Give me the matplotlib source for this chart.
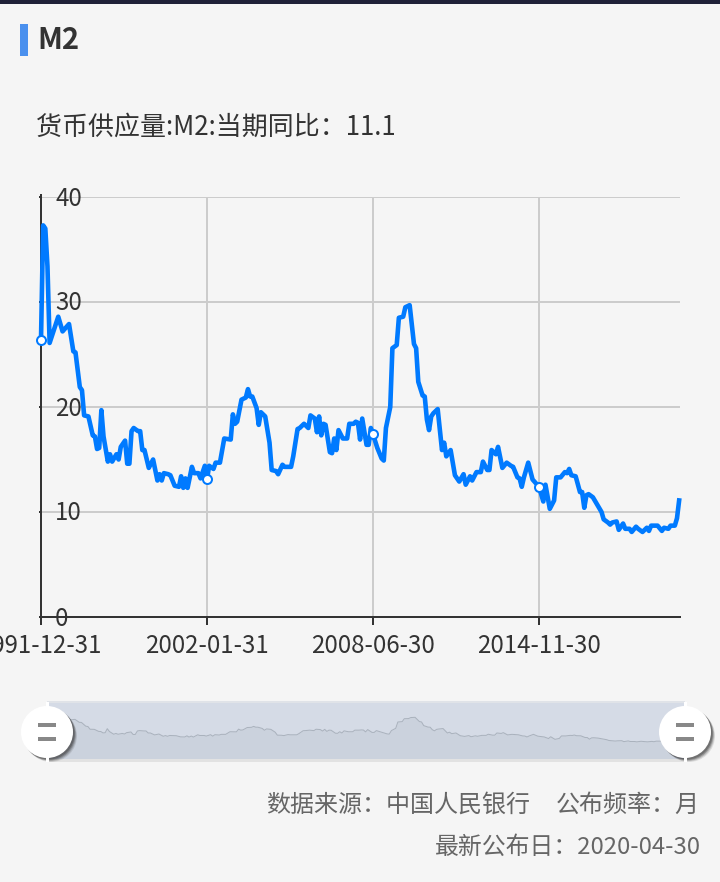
import matplotlib
matplotlib.use("Agg")
import matplotlib.pyplot as plt
from matplotlib.patches import Circle, Rectangle
from matplotlib.transforms import ScaledTranslation

plt.rcParams['font.family'] = ['Noto Sans CJK SC', 'DejaVu Sans']

W, H = 720, 882
BG = '#f5f5f5'
BLUE = '#007aff'

title = 'M2'
subtitle = '货币供应量:M2:当期同比：11.1'
source = '数据来源：中国人民银行'
frequency = '公布频率：月'
updated = '最新公布日：2020-04-30'

# position of each reading on the category axis (one step = one published month)
obs_index = [0, 1, 2, 3, 4, 8, 10, 13, 15, 16, 18, 19, 20, 22, 24, 25, 26, 27, 28, 29, 31, 32, 33, 35, 36, 37, 39, 40, 41, 42,
             43, 45, 46, 47, 48, 50, 52, 54, 55, 56, 57, 59, 60, 62, 64, 65, 66, 67, 68, 70, 71, 73, 74, 76, 77, 78, 80, 81, 83, 85,
             88, 89, 90, 91, 93, 95, 96, 97, 98, 100, 101, 102, 104, 106, 107, 109, 110, 112, 113, 116, 117, 119, 120, 122, 124, 125, 127, 128, 129, 130,
             131, 132, 134, 135, 136, 137, 138, 140, 142, 143, 145, 146, 147, 148, 149, 151, 152, 153, 154, 156, 158, 159, 160, 162, 163, 165, 166, 168, 169, 171,
             173, 174, 175, 177, 178, 179, 180, 181, 182, 184, 186, 187, 188, 190, 192, 194, 196, 197, 199, 200, 202, 204, 205, 207, 208, 209, 211, 212, 214, 216,
             218, 219, 221, 222, 223, 224, 226, 228, 231, 233, 234, 236, 238, 239, 241, 243, 244, 245, 246, 248, 250, 251, 252, 253, 254, 256, 258, 260, 261, 263,
             264, 265, 267, 268, 270, 271, 273, 274, 276, 277, 279, 280, 281, 282, 283, 286, 288, 289, 291, 292, 294, 295, 296]
m2_yoy = [26.4, 37.3, 37.0, 33.4, 26.1, 28.6, 27.2, 27.9, 25.3, 25.2, 21.9, 21.6, 19.2, 19.1, 17.3, 17.2, 16.0, 16.1, 19.7, 17.2, 14.8, 15.5, 14.8, 15.5, 15.0, 16.2, 16.8, 14.6, 14.6, 17.7,
          18.0, 17.7, 17.7, 15.9, 15.9, 14.2, 15.0, 13.0, 13.6, 13.0, 13.7, 13.6, 13.5, 12.5, 12.4, 13.4, 12.3, 13.2, 12.3, 14.3, 13.7, 13.7, 13.2, 14.4, 13.1, 14.4, 14.1, 14.7, 14.7, 17.0,
          16.9, 19.3, 18.4, 18.6, 20.7, 20.9, 21.7, 21.0, 21.0, 19.9, 18.3, 19.5, 19.1, 16.6, 14.0, 13.9, 13.6, 14.5, 14.3, 14.3, 15.3, 17.9, 18.0, 18.4, 18.0, 19.2, 18.9, 17.6, 19.1, 17.3,
          18.4, 18.3, 15.7, 15.6, 17.0, 15.9, 17.8, 17.0, 17.0, 18.4, 18.4, 18.6, 18.5, 16.9, 18.9, 16.4, 16.4, 18.0, 17.4, 16.1, 15.1, 14.9, 18.0, 20.0, 25.6, 25.9, 28.5, 28.6, 29.5, 29.7,
          26.0, 25.6, 22.4, 21.1, 21.0, 18.8, 17.8, 19.1, 19.4, 19.8, 15.9, 16.6, 15.3, 15.9, 13.5, 12.9, 13.6, 12.6, 13.4, 13.0, 13.8, 13.8, 14.8, 14.0, 14.0, 15.9, 15.5, 16.2, 14.2, 14.7,
          14.4, 14.3, 13.3, 13.2, 12.4, 13.3, 14.7, 13.1, 12.4, 11.0, 12.6, 10.3, 11.1, 13.3, 13.3, 13.8, 13.7, 14.1, 13.5, 13.4, 11.9, 11.9, 10.4, 11.6, 11.7, 11.4, 10.7, 10.0, 9.3, 9.0,
          8.8, 9.0, 9.1, 8.3, 8.9, 8.4, 8.4, 8.1, 8.6, 8.4, 8.1, 8.3, 8.5, 8.2, 8.7, 8.7, 8.2, 8.5, 8.4, 8.7, 8.7, 9.4, 11.1]

tick_index = [0, 77, 154, 231]
tick_dates = ['1991-12-31', '2002-01-31', '2008-06-30', '2014-11-30']
tick_values = [0, 10, 20, 30, 40]
marker_values = [26.4, 13.1, 17.4, 12.4]
last_index = 296.4


def rect(x0, y0, x1, y1):
    return [x0 / W, 1 - y1 / H, (x1 - x0) / W, (y1 - y0) / H]


px = 72 / 100  # one image pixel in points
fig = plt.figure(figsize=(W / 100, H / 100), dpi=100, facecolor=BG)

# main chart
ax = fig.add_axes(rect(41, 197, 680, 617), facecolor='none')
ax.set_xlim(0, last_index)
ax.set_ylim(0, 40)
ax.grid(True, color='#cccccc', lw=2 * px)
ax.set_axisbelow(True)
ax.plot(obs_index, m2_yoy, color=BLUE, lw=4.6 * px, solid_joinstyle='round', clip_on=False, zorder=3)
ax.plot(tick_index, marker_values, ls='none', marker='o', ms=9 * px, mfc='white', mec=BLUE, mew=2 * px,
        clip_on=False, zorder=4)
ax.set_xticks(tick_index, tick_dates)
ax.set_yticks(tick_values)
for s in ('top', 'right'):
    ax.spines[s].set_visible(False)
for s in ('left', 'bottom'):
    ax.spines[s].set_color('#333333')
    ax.spines[s].set_linewidth(2 * px)
ax.spines['left'].set_bounds(0, 40.2)
ax.tick_params(axis='x', length=8 * px, width=2 * px, color='#333333', labelsize=17.3, labelcolor='#333333', pad=8 * px)
ax.tick_params(axis='y', length=2 * px, width=2 * px, color='#333333', labelsize=17.3, labelcolor='#333333', pad=-16 * px)
label_shift = ScaledTranslation(0, -1.5 / 100, fig.dpi_scale_trans)
for lab in ax.get_yticklabels():
    lab.set_ha('left')
    lab.set_va('center')
    lab.set_transform(lab.get_transform() + label_shift)

# overview slider
mini = fig.add_axes(rect(47, 702, 685, 760), facecolor='#d5dbe6')
mini.set_xlim(0, last_index)
mini.set_ylim(-7.9, 43.2)
mini.fill_between(obs_index, m2_yoy, -7.9, color='#cbd2dd', lw=0)
mini.plot(obs_index, m2_yoy, color='#aab2bd', lw=1 * px)
mini.set_xticks([])
mini.set_yticks([])
for s in mini.spines.values():
    s.set_visible(False)

# page furniture in image pixels
deco = fig.add_axes([0, 0, 1, 1], facecolor='none')
deco.set_xlim(0, W)
deco.set_ylim(H, 0)
deco.axis('off')
deco.add_patch(Rectangle((0, 0), W, 4, color='#1f2138', lw=0))
deco.add_patch(Rectangle((20, 24), 8, 32, color='#4a90ee', lw=0))
deco.add_patch(Rectangle((47, 759), 638, 3, color='#e2e2e2', lw=0))
deco.add_patch(Rectangle((47, 701), 638, 2, color='#e0e3e8', lw=0))

for cx in (47, 685):
    for off, alpha in ((4, 0.12), (3.2, 0.2), (2.4, 0.3), (1.6, 0.35)):
        deco.add_patch(Circle((cx + off, 732 + off), 26, color='#333333', alpha=alpha, lw=0))
    deco.add_patch(Rectangle((cx - 1.5, 702), 3, 60, color='white', lw=0))
    deco.add_patch(Circle((cx, 732), 26, color='white', lw=0))
    deco.add_patch(Rectangle((cx - 9, 723), 18, 3.5, color='#888888', lw=0))
    deco.add_patch(Rectangle((cx - 9, 737), 18, 3.5, color='#888888', lw=0))

deco.text(37, 40, title, fontsize=21, fontweight='bold', color='#333333', va='center', ha='left')
deco.text(36, 127, subtitle, fontsize=18.7, color='#333333', va='center', ha='left')
deco.text(530, 805, source, fontsize=17.3, color='#666666', va='center', ha='right')
deco.text(700, 805, frequency, fontsize=17.3, color='#666666', va='center', ha='right')
deco.text(700.5, 847, updated, fontsize=17.2, color='#666666', va='center', ha='right')

fig.savefig('out.png', dpi=100, facecolor=BG)
